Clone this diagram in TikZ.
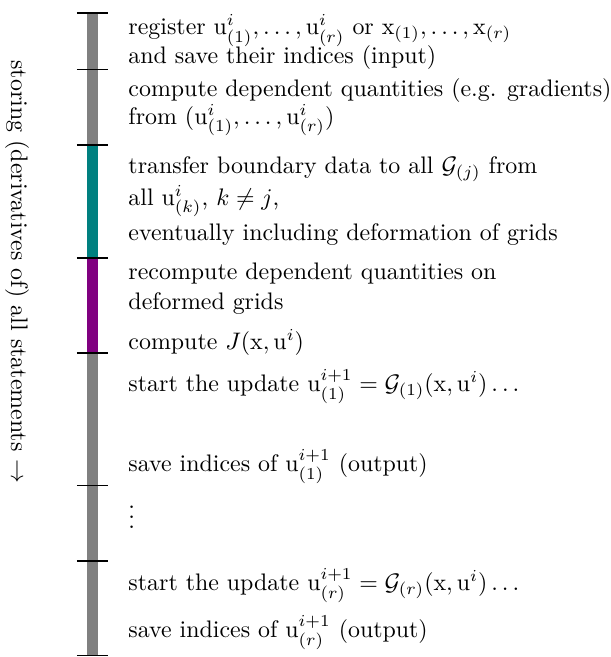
\documentclass[tikz,border=0pt]{standalone}
\usepackage{amsmath,amssymb}
\definecolor{barteal}{rgb}{0,0.5,0.5}
\definecolor{barpurple}{rgb}{0.5,0,0.5}
\definecolor{bargray}{rgb}{0.5,0.5,0.5}
\newcommand{\uu}{\mathrm{u}}
\newcommand{\xx}{\mathrm{x}}
\begin{document}
\begin{tikzpicture}[x=0.41841pt,y=-0.41841pt,
  lbl/.style={anchor=base west,inner sep=0pt,font=\fontsize{10}{12}\selectfont},
  barseg/.style={line width=4.7pt},
  tickmark/.style={line width=0.6pt,black}]
\useasboundingbox (0,0) rectangle (611,657);
% bar coordinates
\coordinate (b0) at (92.5,13);
\coordinate (b1) at (92.5,69.5);
\coordinate (b2) at (92.5,145);
\coordinate (b3) at (92.5,258);
\coordinate (b4) at (92.5,353);
\coordinate (b5) at (92.5,485.5);
\coordinate (b6) at (92.5,561);
\coordinate (b7) at (92.5,655.5);
\draw[barseg,bargray] (b0) -- (b2);
\draw[barseg,barteal] (b2) -- (b3);
\draw[barseg,barpurple] (b3) -- (b4);
\draw[barseg,bargray] (b4) -- (b7);
\foreach \c in {b0,b1,b2,b3,b4,b5,b6,b7}
  \draw[tickmark] ([xshift=-6.5pt]\c) -- ([xshift=6.5pt]\c);
% texts
\node[lbl] (r1) at (128,34.5) {register $\uu^i_{(1)},\dots,\uu^i_{(r)}$ or $\xx_{(1)},\dots,\xx_{(r)}$};
\node[lbl] (r2) at (128,63) {and save their indices (input)};
\node[lbl] (c1) at (128,96) {compute dependent quantities (e.g. gradients)};
\node[lbl] (c2) at (128,124) {from $(\uu^i_{(1)},\dots,\uu^i_{(r)})$};
\node[lbl] (t1) at (128,173) {transfer boundary data to all $\mathcal{G}_{(j)}$ from};
\node[lbl] (t2) at (128,205) {all $\uu^i_{(k)}$, $k\neq j$,};
\node[lbl] (t3) at (128,240) {eventually including deformation of grids};
\node[lbl] (d1) at (128,279) {recompute dependent quantities on};
\node[lbl] (d2) at (128,309) {deformed grids};
\node[lbl] (j1) at (128,349) {compute $J(\xx,\uu^i)$};
\node[lbl] (s1) at (128,391) {start the update $\uu^{i+1}_{(1)}=\mathcal{G}_{(1)}(\xx,\uu^i)\dots$};
\node[lbl] (o1) at (128,471) {save indices of $\uu^{i+1}_{(1)}$ (output)};
\node[lbl] (dots) at (128,528) {$\vdots$};
\node[lbl] (s2) at (128,590) {start the update $\uu^{i+1}_{(r)}=\mathcal{G}_{(r)}(\xx,\uu^i)\dots$};
\node[lbl] (o2) at (128,637) {save indices of $\uu^{i+1}_{(r)}$ (output)};
\node[rotate=-90,inner sep=0pt,font=\fontsize{10}{12}\selectfont] (side) at (17,272) {storing (derivatives of) all statements $\rightarrow$};
\end{tikzpicture}
\end{document}
